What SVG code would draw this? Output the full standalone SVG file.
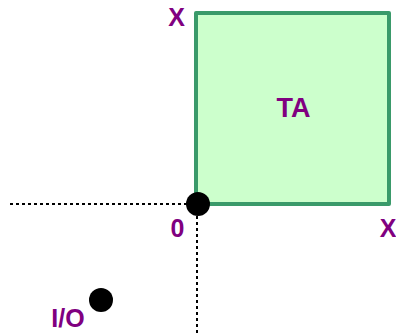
<svg xmlns="http://www.w3.org/2000/svg" width="396" height="334" viewBox="0 0 396 334">
<style>
.t{font-family:"Liberation Sans",Arial,sans-serif;font-weight:bold;font-size:25px;fill:#800080}
.d{stroke:#000;stroke-width:2;stroke-dasharray:3,3;fill:none}
</style>
<rect width="396" height="334" fill="#fff"/>
<g id="connectors">
<line class="d" x1="10" y1="204" x2="198" y2="204"/>
<line class="d" x1="197" y1="204" x2="197" y2="334"/>
</g>
<g id="TA">
<rect x="196" y="13" width="193" height="191" fill="#ccffcc" stroke="#3a9a6a" stroke-width="4" stroke-linejoin="round"/>
<text class="t" x="293.5" y="117" text-anchor="middle" style="font-size:27px">TA</text>
</g>
<g id="origin">
<circle cx="198" cy="204" r="12" fill="#000"/>
<text class="t" x="177.5" y="237" text-anchor="middle">0</text>
</g>
<g id="io">
<circle cx="101" cy="300" r="12" fill="#000"/>
<text class="t" x="68" y="327" text-anchor="middle">I/O</text>
</g>
<g id="labels">
<text class="t" x="176.5" y="26" text-anchor="middle">X</text>
<text class="t" x="388" y="237" text-anchor="middle">X</text>
</g>
</svg>
